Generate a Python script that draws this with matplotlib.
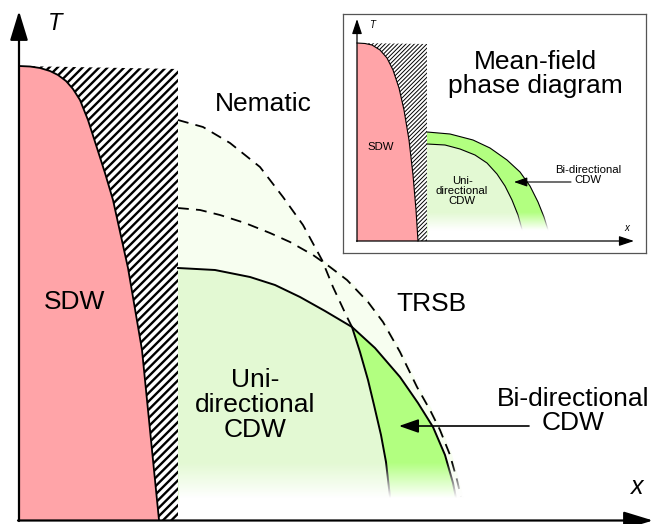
import numpy as np
import matplotlib
matplotlib.use('Agg')
import matplotlib.pyplot as plt

plt.rcParams['font.family'] = ['Liberation Sans', 'DejaVu Sans']
plt.rcParams['hatch.linewidth'] = 1.7

# schematic traced in pixel coordinates of a 663x524 picture (x right, y down)
W, H = 663, 524

# main diagram boundaries
sdw_x = [19, 30, 40, 50, 58, 66, 73, 80, 88, 97, 105, 113, 128, 142, 150, 159]
sdw_y = [66, 66.5, 68, 71, 75, 81, 89, 100, 120, 148, 173, 200, 268, 350, 430, 520]
hatch_right = 178
hatch_top = 69

nem_x = [178, 203, 230, 260, 283, 303, 322, 333, 347, 352]
nem_y = [120, 127, 143, 167, 197, 225, 260, 287, 317, 327]

trsb_x = [178, 200, 220, 245, 270, 290, 313, 330, 347, 368, 383, 400, 417, 430, 440, 450, 457, 461]
trsb_y = [208, 210, 215, 223, 233, 242, 255, 267, 280, 302, 322, 352, 387, 410, 430, 455, 480, 497]

cdw_x = [178, 215, 250, 275, 300, 325, 352, 375, 400, 418, 433, 445, 453, 456]
cdw_y = [268, 270, 277, 285, 297, 311, 327, 348, 377, 403, 427, 455, 483, 498]

bi_x = [352, 360, 368, 374, 381, 386, 390]
bi_y = [327, 352, 380, 405, 435, 462, 497]

# inset boundaries
in_box = (343, 646, 14, 253)
in_sdw_x = [357, 365, 372, 380, 387, 393, 399, 404, 409, 413, 416, 418]
in_sdw_y = [43, 43.5, 45, 50, 58, 70, 88, 110, 140, 175, 210, 241]
in_hatch_right = 427
in_hatch_top = 44
in_outer_x = [427, 450, 473, 490, 507, 520, 530, 538, 544, 549]
in_outer_y = [132, 134, 140, 148, 160, 172, 186, 202, 217, 233]
in_inner_x = [427, 445, 460, 475, 487, 497, 505, 512, 518, 523]
in_inner_y = [144, 145, 149, 155, 163, 174, 186, 200, 215, 233]

pink = '#FFA4A8'
pale = '#F7FEF0'
uni_green = '#E3F9D3'
bi_green = '#B2FF80'


def fade(a, x0, x1, y0, y1, full, z):
    # white veil, transparent at y0 and opaque from y0+full downwards
    img = np.ones((80, 1, 4))
    img[:, 0, 3] = np.clip(np.linspace(0, (y1 - y0) / full, 80), 0, 1)
    a.imshow(img, extent=(x0, x1, y1, y0), aspect='auto',
             interpolation='bilinear', zorder=z)


fig = plt.figure(figsize=(W / 100, H / 100), dpi=100)
ax = fig.add_axes([0, 0, 1, 1])

# nematic (union of the two dashed domes)
ax.fill(nem_x + [352, 178], nem_y + [500, 500], color=pale, lw=0, zorder=1)
ax.fill(trsb_x + [461, 178], trsb_y + [500, 500], color=pale, ec=pale, lw=3, zorder=1)

# CDW phases
ax.fill(cdw_x[:7] + bi_x[1:] + [178], cdw_y[:7] + bi_y[1:] + [500],
        color=uni_green, lw=0, zorder=2)
ax.fill(cdw_x[6:] + bi_x[::-1], cdw_y[6:] + bi_y[::-1], color=bi_green, lw=0, zorder=2)

# hatched coexistence strip and SDW
ax.fill(sdw_x + [hatch_right, hatch_right], sdw_y + [520, hatch_top],
        facecolor='white', edgecolor='black', hatch='////', lw=0, zorder=2)
ax.fill([19] + sdw_x + [19], [66] + sdw_y + [520], color=pink, lw=0, zorder=3)
ax.plot(sdw_x, sdw_y, color='black', lw=1.3, zorder=4)

ax.plot(nem_x, nem_y, color='black', lw=1.3, ls=(0, (6, 4)), zorder=4)
ax.plot(trsb_x, trsb_y, color='black', lw=1.3, ls=(0, (6, 4)), zorder=4)
ax.plot(cdw_x, cdw_y, color='black', lw=1.4, zorder=4)
ax.plot(bi_x, bi_y, color='black', lw=1.4, zorder=4)

fade(ax, 178.5, 478, 462, 519, 36, 5)

# axes arrows
ax.annotate('', xy=(19, 11), xytext=(19, 521),
            arrowprops=dict(arrowstyle='-|>,head_length=1.8,head_width=0.55',
                            color='black', lw=1.6, shrinkA=0, shrinkB=0), zorder=8)
ax.annotate('', xy=(653, 520.5), xytext=(18, 520.5),
            arrowprops=dict(arrowstyle='-|>,head_length=1.8,head_width=0.55',
                            color='black', lw=1.6, shrinkA=0, shrinkB=0), zorder=8)
ax.annotate('', xy=(399, 426), xytext=(529, 426),
            arrowprops=dict(arrowstyle='-|>,head_length=1.2,head_width=0.42',
                            color='black', lw=1.2, shrinkA=0, shrinkB=0), zorder=8)

ax.text(55, 24, 'T', fontsize=17, style='italic', ha='center', va='center')
ax.text(637, 487, 'x', fontsize=18, style='italic', ha='center', va='center')
lab = dict(fontsize=19, ha='center', va='center', zorder=9)
ax.text(75, 302, 'SDW', **lab)
ax.text(263, 104, 'Nematic', **lab)
ax.text(431, 304, 'TRSB', **lab)
ax.text(255, 405, 'Uni-\ndirectional\nCDW', linespacing=1.05, **lab)
ax.text(573, 411, 'Bi-directional\nCDW', linespacing=1.05, **lab)

ax.set_xlim(0, W)
ax.set_ylim(H, 0)
ax.axis('off')

# inset: mean-field phase diagram
x0, x1, y0, y1 = in_box
ins = fig.add_axes([x0 / W, 1 - y1 / H, (x1 - x0) / W, (y1 - y0) / H])
ins.set_facecolor('white')
for s in ins.spines.values():
    s.set_color('#555555')
    s.set_linewidth(0.9)
ins.set_xticks([])
ins.set_yticks([])

ins.fill(in_inner_x + [523, 427], in_inner_y + [236, 236], color=uni_green, lw=0, zorder=2)
ins.fill(in_outer_x + in_inner_x[::-1], in_outer_y + in_inner_y[::-1],
         color=bi_green, lw=0, zorder=2)
ins.plot(in_outer_x, in_outer_y, color='black', lw=0.8, zorder=4)
ins.plot(in_inner_x, in_inner_y, color='black', lw=0.8, zorder=4)

hp = ins.fill(in_sdw_x + [in_hatch_right, in_hatch_right], in_sdw_y + [241, in_hatch_top],
              facecolor='white', edgecolor='black', hatch='////////', lw=0, zorder=2)[0]
if hasattr(hp, 'set_hatch_linewidth'):
    hp.set_hatch_linewidth(0.7)
ins.fill([357] + in_sdw_x + [357], [43] + in_sdw_y + [241], color=pink, lw=0, zorder=3)
ins.plot(in_sdw_x, in_sdw_y, color='black', lw=0.8, zorder=4)

fade(ins, 427.5, 560, 212, 240, 18, 5)

ins.annotate('', xy=(357, 19), xytext=(357, 241.5),
             arrowprops=dict(arrowstyle='-|>,head_length=0.9,head_width=0.3',
                             color='black', lw=0.9, shrinkA=0, shrinkB=0), zorder=8)
ins.annotate('', xy=(634, 241), xytext=(356.5, 241),
             arrowprops=dict(arrowstyle='-|>,head_length=0.9,head_width=0.3',
                             color='black', lw=0.9, shrinkA=0, shrinkB=0), zorder=8)
ins.annotate('', xy=(514, 182), xytext=(571, 182),
             arrowprops=dict(arrowstyle='-|>,head_length=0.8,head_width=0.28',
                             color='black', lw=0.8, shrinkA=0, shrinkB=0), zorder=8)

ins.text(372, 25, 'T', fontsize=7, style='italic', ha='center', va='center')
ins.text(627, 228, 'x', fontsize=7, style='italic', ha='center', va='center')
small = dict(fontsize=8.2, ha='center', va='center', zorder=9)
ins.text(381, 147, 'SDW', **small)
ins.text(462, 191, 'Uni-\ndirectional\nCDW', linespacing=1.0, **small)
ins.text(588, 175, 'Bi-directional\nCDW', linespacing=1.0, **small)
ins.text(535, 74, 'Mean-field\nphase diagram', fontsize=19, ha='center', va='center',
         linespacing=1.0)

ins.set_xlim(x0, x1)
ins.set_ylim(y1, y0)

fig.savefig('out.png', dpi=100)
